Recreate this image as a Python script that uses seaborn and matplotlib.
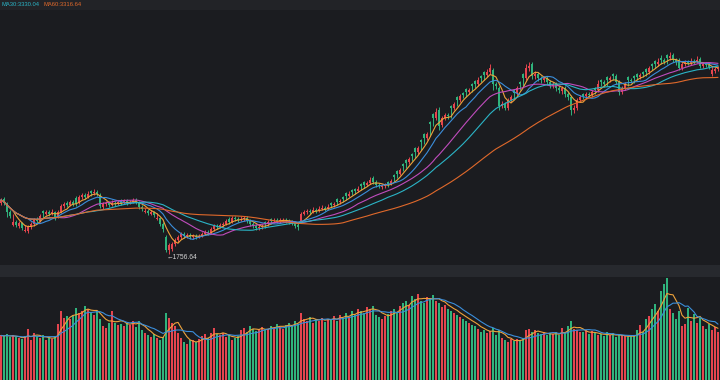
import numpy as np
import pandas as pd
import seaborn as sns
import matplotlib.pyplot as plt

# daily candles (index points)
open_ = [
    2216, 2252, 2207, 2135, 2018, 2045, 2009, 2036, 1964, 1964,
    2000, 2027, 2072, 2054, 2144, 2117, 2135, 2117, 2135, 2090,
    2135, 2189, 2216, 2198, 2225, 2261, 2216, 2270, 2288, 2270,
    2324, 2306, 2315, 2288, 2180, 2207, 2216, 2198, 2216, 2207,
    2225, 2216, 2234, 2216, 2225, 2243, 2225, 2180, 2135, 2144,
    2117, 2135, 2072, 2081, 2027, 1910, 1793, 1802, 1847, 1883,
    1910, 1937, 1919, 1928, 1910, 1919, 1910, 1919, 1937, 1955,
    1946, 1982, 2009, 2000, 2018, 2027, 2072, 2045, 2081, 2072,
    2063, 2072, 2081, 2054, 2027, 2009, 1991, 2000, 2045, 2027,
    2072, 2054, 2063, 2054, 2054, 2063, 2054, 2045, 2036, 2018,
    2045, 2117, 2135, 2144, 2135, 2153, 2144, 2162, 2171, 2162,
    2216, 2198, 2252, 2225, 2270, 2306, 2279, 2333, 2342, 2324,
    2387, 2405, 2378, 2396, 2441, 2405, 2378, 2360, 2369, 2405,
    2387, 2468, 2504, 2477, 2567, 2603, 2585, 2657, 2711, 2675,
    2783, 2837, 2801, 2945, 3017, 2981, 3053, 2918, 2981, 3008,
    3089, 3071, 3170, 3143, 3206, 3242, 3215, 3287, 3314, 3287,
    3359, 3395, 3368, 3395, 3413, 3287, 3251, 3089, 3107, 3071,
    3143, 3233, 3206, 3305, 3377, 3341, 3431, 3467, 3359, 3377,
    3341, 3323, 3341, 3305, 3269, 3287, 3251, 3224, 3251, 3197,
    3170, 3053, 3071, 3143, 3197, 3179, 3197, 3188, 3251, 3233,
    3323, 3305, 3350, 3323, 3377, 3359, 3305, 3215, 3251, 3350,
    3323, 3359, 3377, 3350, 3395, 3422, 3395, 3467, 3494, 3467,
    3521, 3503, 3548, 3521, 3548, 3503, 3503, 3431, 3467, 3485,
    3476, 3494, 3485, 3512, 3449, 3467, 3458, 3377, 3404, 3422,
]
close = [
    2243, 2216, 2135, 2099, 2045, 2018, 2036, 1991, 1973, 2000,
    2027, 2063, 2054, 2099, 2126, 2135, 2117, 2135, 2081, 2135,
    2189, 2207, 2198, 2225, 2207, 2207, 2270, 2288, 2270, 2297,
    2306, 2315, 2297, 2189, 2207, 2216, 2198, 2216, 2207, 2225,
    2216, 2234, 2216, 2225, 2243, 2225, 2180, 2162, 2144, 2126,
    2135, 2108, 2081, 2027, 1982, 1793, 1838, 1847, 1883, 1910,
    1937, 1919, 1928, 1910, 1919, 1910, 1919, 1937, 1955, 1946,
    1982, 2009, 2000, 2018, 2027, 2054, 2045, 2081, 2072, 2063,
    2072, 2081, 2054, 2027, 2009, 1991, 2000, 2009, 2027, 2045,
    2054, 2063, 2054, 2063, 2063, 2054, 2045, 2036, 2009, 2000,
    2117, 2135, 2144, 2135, 2153, 2144, 2162, 2171, 2162, 2180,
    2198, 2207, 2225, 2234, 2252, 2279, 2297, 2315, 2324, 2342,
    2369, 2378, 2396, 2423, 2405, 2378, 2369, 2369, 2378, 2387,
    2414, 2450, 2477, 2513, 2549, 2576, 2612, 2639, 2675, 2711,
    2765, 2801, 2837, 2927, 2981, 3035, 2909, 2981, 3008, 2999,
    3071, 3107, 3143, 3179, 3188, 3215, 3233, 3269, 3287, 3323,
    3341, 3368, 3395, 3431, 3287, 3269, 3089, 3107, 3071, 3143,
    3170, 3206, 3251, 3287, 3341, 3431, 3449, 3359, 3377, 3341,
    3323, 3341, 3305, 3269, 3287, 3251, 3233, 3251, 3197, 3170,
    3053, 3071, 3143, 3170, 3179, 3197, 3188, 3215, 3233, 3287,
    3305, 3287, 3323, 3341, 3359, 3305, 3215, 3251, 3287, 3323,
    3314, 3341, 3350, 3368, 3377, 3395, 3431, 3449, 3467, 3485,
    3503, 3485, 3521, 3539, 3503, 3485, 3431, 3467, 3485, 3476,
    3494, 3485, 3503, 3449, 3467, 3458, 3440, 3413, 3422, 3431,
]
high = [
    2261, 2270, 2225, 2153, 2117, 2063, 2054, 2045, 2018, 2018,
    2045, 2081, 2090, 2117, 2153, 2153, 2153, 2162, 2144, 2153,
    2207, 2225, 2234, 2243, 2243, 2279, 2288, 2306, 2306, 2324,
    2333, 2342, 2333, 2306, 2225, 2234, 2234, 2243, 2234, 2243,
    2252, 2252, 2252, 2243, 2261, 2261, 2234, 2198, 2171, 2162,
    2153, 2144, 2126, 2090, 2045, 1928, 1856, 1865, 1901, 1928,
    1955, 1955, 1946, 1946, 1937, 1937, 1937, 1955, 1973, 1973,
    2000, 2027, 2027, 2036, 2045, 2072, 2090, 2099, 2099, 2090,
    2099, 2099, 2099, 2072, 2045, 2027, 2018, 2027, 2054, 2063,
    2081, 2081, 2081, 2081, 2081, 2081, 2072, 2063, 2054, 2036,
    2135, 2153, 2162, 2162, 2180, 2171, 2189, 2198, 2189, 2207,
    2225, 2225, 2261, 2252, 2279, 2315, 2324, 2342, 2351, 2369,
    2396, 2414, 2414, 2450, 2459, 2423, 2396, 2387, 2396, 2414,
    2432, 2477, 2513, 2531, 2576, 2612, 2630, 2666, 2720, 2729,
    2792, 2846, 2855, 2954, 3026, 3071, 3080, 2999, 3026, 3026,
    3098, 3125, 3179, 3197, 3215, 3251, 3251, 3296, 3323, 3350,
    3368, 3404, 3422, 3467, 3431, 3305, 3269, 3134, 3125, 3161,
    3188, 3242, 3269, 3314, 3386, 3467, 3485, 3485, 3404, 3395,
    3359, 3359, 3359, 3323, 3305, 3305, 3269, 3269, 3269, 3215,
    3188, 3098, 3161, 3188, 3206, 3215, 3215, 3233, 3260, 3323,
    3332, 3323, 3359, 3359, 3386, 3377, 3323, 3269, 3305, 3359,
    3341, 3368, 3386, 3386, 3404, 3431, 3449, 3476, 3503, 3521,
    3548, 3521, 3557, 3575, 3566, 3521, 3521, 3485, 3503, 3503,
    3521, 3512, 3539, 3530, 3485, 3485, 3476, 3449, 3440, 3449,
]
low = [
    2198, 2198, 2090, 2081, 2009, 2000, 1991, 1973, 1955, 1946,
    1982, 2009, 2036, 2045, 2081, 2108, 2099, 2108, 2063, 2081,
    2126, 2171, 2180, 2189, 2189, 2189, 2207, 2252, 2252, 2261,
    2279, 2288, 2279, 2171, 2162, 2189, 2180, 2189, 2189, 2198,
    2198, 2207, 2198, 2207, 2216, 2207, 2162, 2144, 2126, 2108,
    2108, 2090, 2063, 2009, 1955, 1775, 1756.64, 1784, 1829, 1865,
    1892, 1901, 1901, 1892, 1892, 1892, 1901, 1910, 1928, 1928,
    1937, 1964, 1982, 1991, 2000, 2018, 2027, 2036, 2054, 2045,
    2054, 2054, 2036, 2009, 1991, 1973, 1973, 1982, 1991, 2009,
    2027, 2036, 2036, 2036, 2045, 2036, 2027, 2018, 1991, 1973,
    2036, 2108, 2117, 2117, 2126, 2126, 2135, 2153, 2144, 2153,
    2171, 2180, 2198, 2207, 2225, 2243, 2270, 2288, 2297, 2315,
    2333, 2351, 2369, 2387, 2387, 2360, 2351, 2342, 2351, 2360,
    2378, 2405, 2441, 2468, 2504, 2531, 2567, 2594, 2621, 2657,
    2693, 2747, 2783, 2819, 2909, 2963, 2873, 2900, 2963, 2972,
    2981, 3053, 3089, 3125, 3161, 3170, 3197, 3215, 3251, 3269,
    3305, 3323, 3350, 3377, 3233, 3242, 3053, 3071, 3053, 3053,
    3125, 3152, 3188, 3233, 3269, 3323, 3404, 3332, 3332, 3314,
    3296, 3305, 3278, 3251, 3251, 3224, 3206, 3197, 3170, 3143,
    3008, 3026, 3053, 3125, 3152, 3161, 3170, 3170, 3197, 3215,
    3269, 3260, 3269, 3305, 3323, 3287, 3188, 3197, 3233, 3269,
    3296, 3296, 3323, 3332, 3350, 3359, 3377, 3413, 3431, 3449,
    3467, 3467, 3467, 3503, 3485, 3458, 3413, 3413, 3449, 3458,
    3458, 3467, 3476, 3431, 3431, 3440, 3422, 3359, 3386, 3404,
]
volume = [
    45, 44, 46, 43, 45, 43, 42, 41, 44, 52,
    40, 47, 44, 42, 45, 40, 43, 41, 44, 57,
    70, 63, 65, 62, 66, 73, 68, 70, 75, 72,
    68, 66, 70, 62, 55, 53, 58, 70, 58, 56,
    57, 55, 58, 56, 60, 54, 60, 50, 47, 45,
    43, 46, 42, 40, 43, 68, 63, 58, 55, 47,
    42, 38, 36, 40, 40, 38, 41, 44, 46, 42,
    47, 53, 46, 45, 47, 43, 45, 40, 42, 44,
    50, 53, 48, 55, 52, 49, 51, 54, 50, 52,
    55, 53, 57, 54, 52, 56, 58, 55, 60, 57,
    68, 62, 60, 64, 58, 62, 60, 63, 59, 61,
    62, 65, 60, 66, 63, 68, 64, 70, 66, 72,
    70, 68, 74, 72, 75, 66, 64, 62, 65, 67,
    70, 72, 68, 75, 78, 80, 76, 85, 82, 87,
    80, 78, 84, 82, 86, 80, 78, 74, 76, 72,
    70, 68, 66, 64, 62, 60, 58, 56, 55, 52,
    48, 50, 47, 49, 53, 45, 50, 42, 40, 38,
    41, 39, 41, 40, 42, 50, 52, 48, 50, 47,
    46, 48, 45, 47, 46, 48, 45, 53, 47, 55,
    60, 52, 50, 48, 48, 50, 46, 49, 47, 45,
    46, 44, 48, 45, 47, 43, 45, 45, 44, 43,
    45, 44, 50, 56, 48, 62, 65, 72, 77, 70,
    90, 97, 103, 72, 68, 62, 70, 55, 57, 73,
    60, 67, 58, 63, 55, 52, 57, 50, 54, 48,
]

legend_labels = ["MA30:3330.04", "MA60:3316.64"]

RED = "#e5454e"
GREEN = "#2fb37c"
BG = "#1b1c20"
ma_colors = {"ma5": "#eea23a", "ma10": "#3b8edb", "ma20": "#c04cbd",
             "ma30": "#2bb4c6", "ma60": "#e0692b"}

sns.set_theme(style="dark", rc={"axes.facecolor": BG, "figure.facecolor": BG})

df = pd.DataFrame({"open": open_, "high": high, "low": low,
                   "close": close, "volume": volume})
df["idx"] = np.arange(len(df))
for n in (5, 10, 20, 30, 60):
    df[f"ma{n}"] = df["close"].rolling(n, min_periods=1).mean()
df["vma5"] = df["volume"].rolling(5, min_periods=1).mean()
df["vma10"] = df["volume"].rolling(10, min_periods=1).mean()
colors = np.where(df["close"] >= df["open"], RED, GREEN)

fig = plt.figure(figsize=(7.2, 3.8), dpi=100)
ax_head = fig.add_axes([0, 370 / 380, 1, 10 / 380])
ax = fig.add_axes([0, 115 / 380, 1, 255 / 380])
ax_sep = fig.add_axes([0, 103 / 380, 1, 12 / 380])
axv = fig.add_axes([0, 0, 1, 103 / 380])

for a, fc in ((ax_head, "#222327"), (ax, BG), (ax_sep, "#27292e"), (axv, BG)):
    a.set_facecolor(fc)
    a.set(xticks=[], yticks=[], xlabel="", ylabel="")
    for s in a.spines.values():
        s.set_visible(False)

# 3 px per candle; centres shifted so 2 px bodies sit on whole pixels
xlim = (-1 / 3, len(df) - 1 / 3)
bar_w = 0.64

# candles
body_lo = np.minimum(df["open"], df["close"])
body_h = np.maximum((df["close"] - df["open"]).abs(), 6)
ax.vlines(df["idx"], df["low"], df["high"], colors=colors, lw=0.7)
ax.bar(df["idx"], body_h, bottom=body_lo, width=bar_w, color=colors, lw=0,
       antialiased=False)
for key, col in ma_colors.items():
    sns.lineplot(data=df, x="idx", y=key, ax=ax, color=col, lw=0.8)
ax.set_xlim(*xlim)
ax.set_ylim(1658, 3953)
ax.set(xlabel="", ylabel="")

imin = df["low"].idxmin()
ax.text(imin - 0.7, df["low"][imin] - 30, f"\u2190{df['low'][imin]:.2f}",
        color="#d6d6d6", fontsize=4.8, family=["Liberation Sans", "DejaVu Sans"],
        ha="left", va="center")

# header legend
ax_head.set_xlim(0, 720)
ax_head.set_ylim(0, 1)
ax_head.text(2, 0.5, legend_labels[0], color=ma_colors["ma30"], fontsize=4.2,
             family="Liberation Sans", va="center")
ax_head.text(43, 0.5, legend_labels[1], color=ma_colors["ma60"], fontsize=4.2,
             family="Liberation Sans", va="center")

# volume
axv.bar(df["idx"], df["volume"], width=bar_w, color=colors, lw=0, antialiased=False)
sns.lineplot(data=df, x="idx", y="vma5", ax=axv, color="#eea23a", lw=0.8)
sns.lineplot(data=df, x="idx", y="vma10", ax=axv, color="#3b8edb", lw=0.8)
axv.set_xlim(*xlim)
axv.set_ylim(0, 104)
axv.set(xlabel="", ylabel="")

fig.savefig("out.png", dpi=100, facecolor=BG)
